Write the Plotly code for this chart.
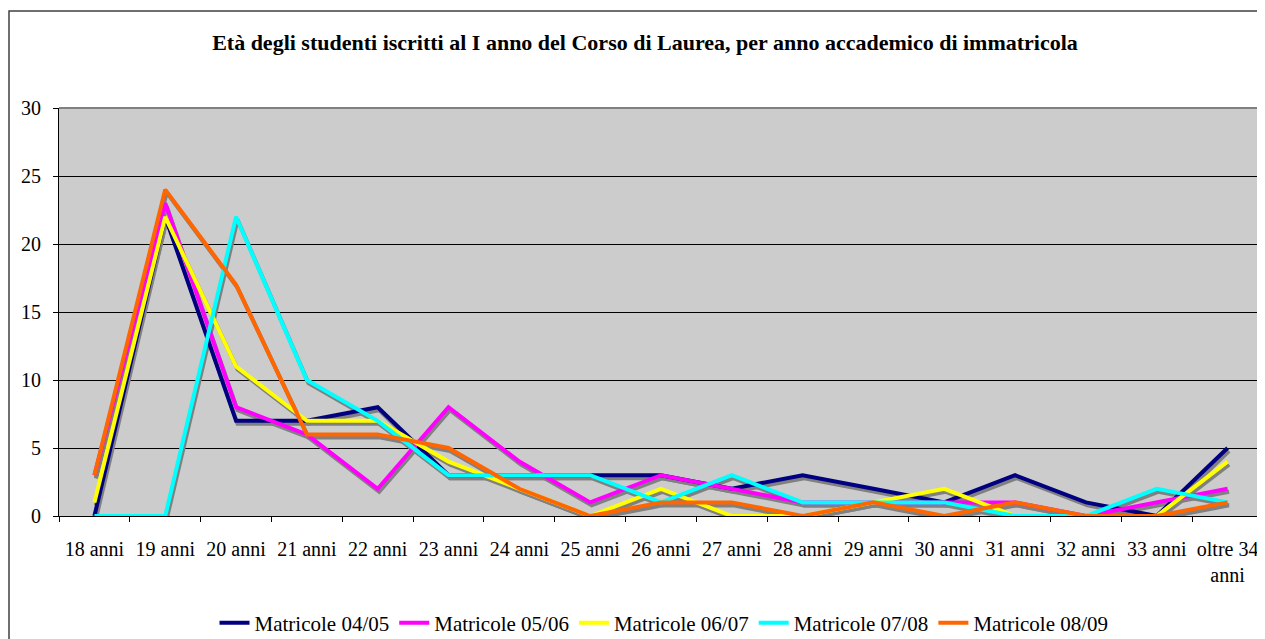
import plotly.graph_objects as go

categories = ["18 anni", "19 anni", "20 anni", "21 anni", "22 anni", "23 anni",
              "24 anni", "25 anni", "26 anni", "27 anni", "28 anni", "29 anni",
              "30 anni", "31 anni", "32 anni", "33 anni", "oltre 34<br>anni"]

m0405 = [0, 22, 7, 7, 8, 3, 3, 3, 3, 2, 3, 2, 1, 3, 1, 0, 5]
m0506 = [3, 23, 8, 6, 2, 8, 4, 1, 3, 2, 1, 1, 1, 1, 0, 1, 2]
m0607 = [1, 22, 11, 7, 7, 4, 2, 0, 2, 0, 0, 1, 2, 0, 0, 0, 4]
m0708 = [0, 0, 22, 10, 7, 3, 3, 3, 1, 3, 1, 1, 1, 0, 0, 2, 1]
m0809 = [3, 24, 17, 6, 6, 5, 2, 0, 1, 1, 0, 1, 0, 1, 0, 0, 1]

series = [
    ("Matricole 04/05", m0405, "#000080"),
    ("Matricole 05/06", m0506, "#FF00FF"),
    ("Matricole 06/07", m0607, "#FFFF00"),
    ("Matricole 07/08", m0708, "#00FFFF"),
    ("Matricole 08/09", m0809, "#FF6600"),
]

# page has an 8px body margin: compensate so the figure fills the window
OFF = 8
PAGE_W, PAGE_H = 1265, 639
W, H = PAGE_W - OFF, PAGE_H - OFF
PLOT_L, PLOT_R, PLOT_T, PLOT_B = 59, 1263, 108, 516   # page pixel positions
L = PLOT_L - OFF
T = PLOT_T - OFF
R = OFF + W - PLOT_R
B = OFF + H - PLOT_B
PW, PH = PLOT_R - PLOT_L, PLOT_B - PLOT_T
n = len(categories)
xs = list(range(n))

def px_x(page_x):
    return (page_x - PLOT_L) / PW

def px_y(page_y):
    return (PLOT_B - page_y) / PH

def cont_y(page_y):
    return 1 - (page_y - OFF) / H

# shadow offset in pixels converted to axis units
sdx = 1.5 * n / PW
sdy = 3.0 * 30 / PH

FONT = "Liberation Serif"
fig = go.Figure()

for name, vals, col in series:
    fig.add_trace(go.Scatter(
        x=[x + sdx for x in xs], y=[v - sdy for v in vals], mode="lines",
        line=dict(color="#808080", width=4), showlegend=False, hoverinfo="skip"))

for name, vals, col in series:
    fig.add_trace(go.Scatter(
        x=xs, y=vals, mode="lines", name=name,
        line=dict(color=col, width=4)))

fig.update_layout(
    width=W, height=H,
    margin=dict(l=L, r=R, t=T, b=B, autoexpand=False),
    paper_bgcolor="white", plot_bgcolor="#CCCCCC",
    font=dict(family=FONT, size=20, color="black"),
    title=dict(text="<b>Età degli studenti iscritti al I anno del Corso di Laurea, per anno accademico di immatricola</b>",
               x=px_x(645), xref="paper", xanchor="center",
               y=cont_y(42), yref="container", yanchor="middle",
               font=dict(family=FONT, size=22, color="black")),
    legend=dict(orientation="h", x=px_x(664), xanchor="center",
                y=cont_y(623), yref="container", yanchor="middle",
                font=dict(family=FONT, size=21), bgcolor="rgba(0,0,0,0)",
                itemwidth=30, tracegroupgap=0),
    showlegend=True,
)

fig.update_xaxes(
    range=[-0.5, n - 0.5], tickmode="array", tickvals=xs, ticktext=categories,
    ticks="", showgrid=False, zeroline=False, automargin=False,
    showline=True, linecolor="black", linewidth=1,
    ticklabelstandoff=15,
    minor=dict(tickmode="array", tickvals=[i - 0.5 for i in range(n + 1)],
               ticks="outside", ticklen=5, tickcolor="black", showgrid=False),
    tickfont=dict(family=FONT, size=20),
)
fig.update_yaxes(
    range=[0, 30], dtick=5, tick0=0, showgrid=True, gridcolor="black", gridwidth=1,
    zeroline=False, showline=True, linecolor="black", linewidth=1, automargin=False,
    ticks="outside", ticklen=5, tickcolor="black", ticklabelstandoff=8,
    tickfont=dict(family=FONT, size=20),
)

# plot frame (top and right) and outer chart border
fig.add_shape(type="line", xref="paper", yref="paper", x0=0, x1=1, y0=1, y1=1,
              line=dict(color="#808080", width=2), layer="above")
fig.add_shape(type="line", xref="paper", yref="paper", x0=1, x1=1, y0=0, y1=1,
              line=dict(color="#808080", width=2), layer="above")
fig.add_shape(type="rect", xref="paper", yref="paper",
              x0=px_x(9), x1=px_x(PAGE_W + 20),
              y0=px_y(PAGE_H + 20), y1=px_y(11),
              line=dict(color="#404040", width=1.5), layer="above")

fig.write_html("out.html")
